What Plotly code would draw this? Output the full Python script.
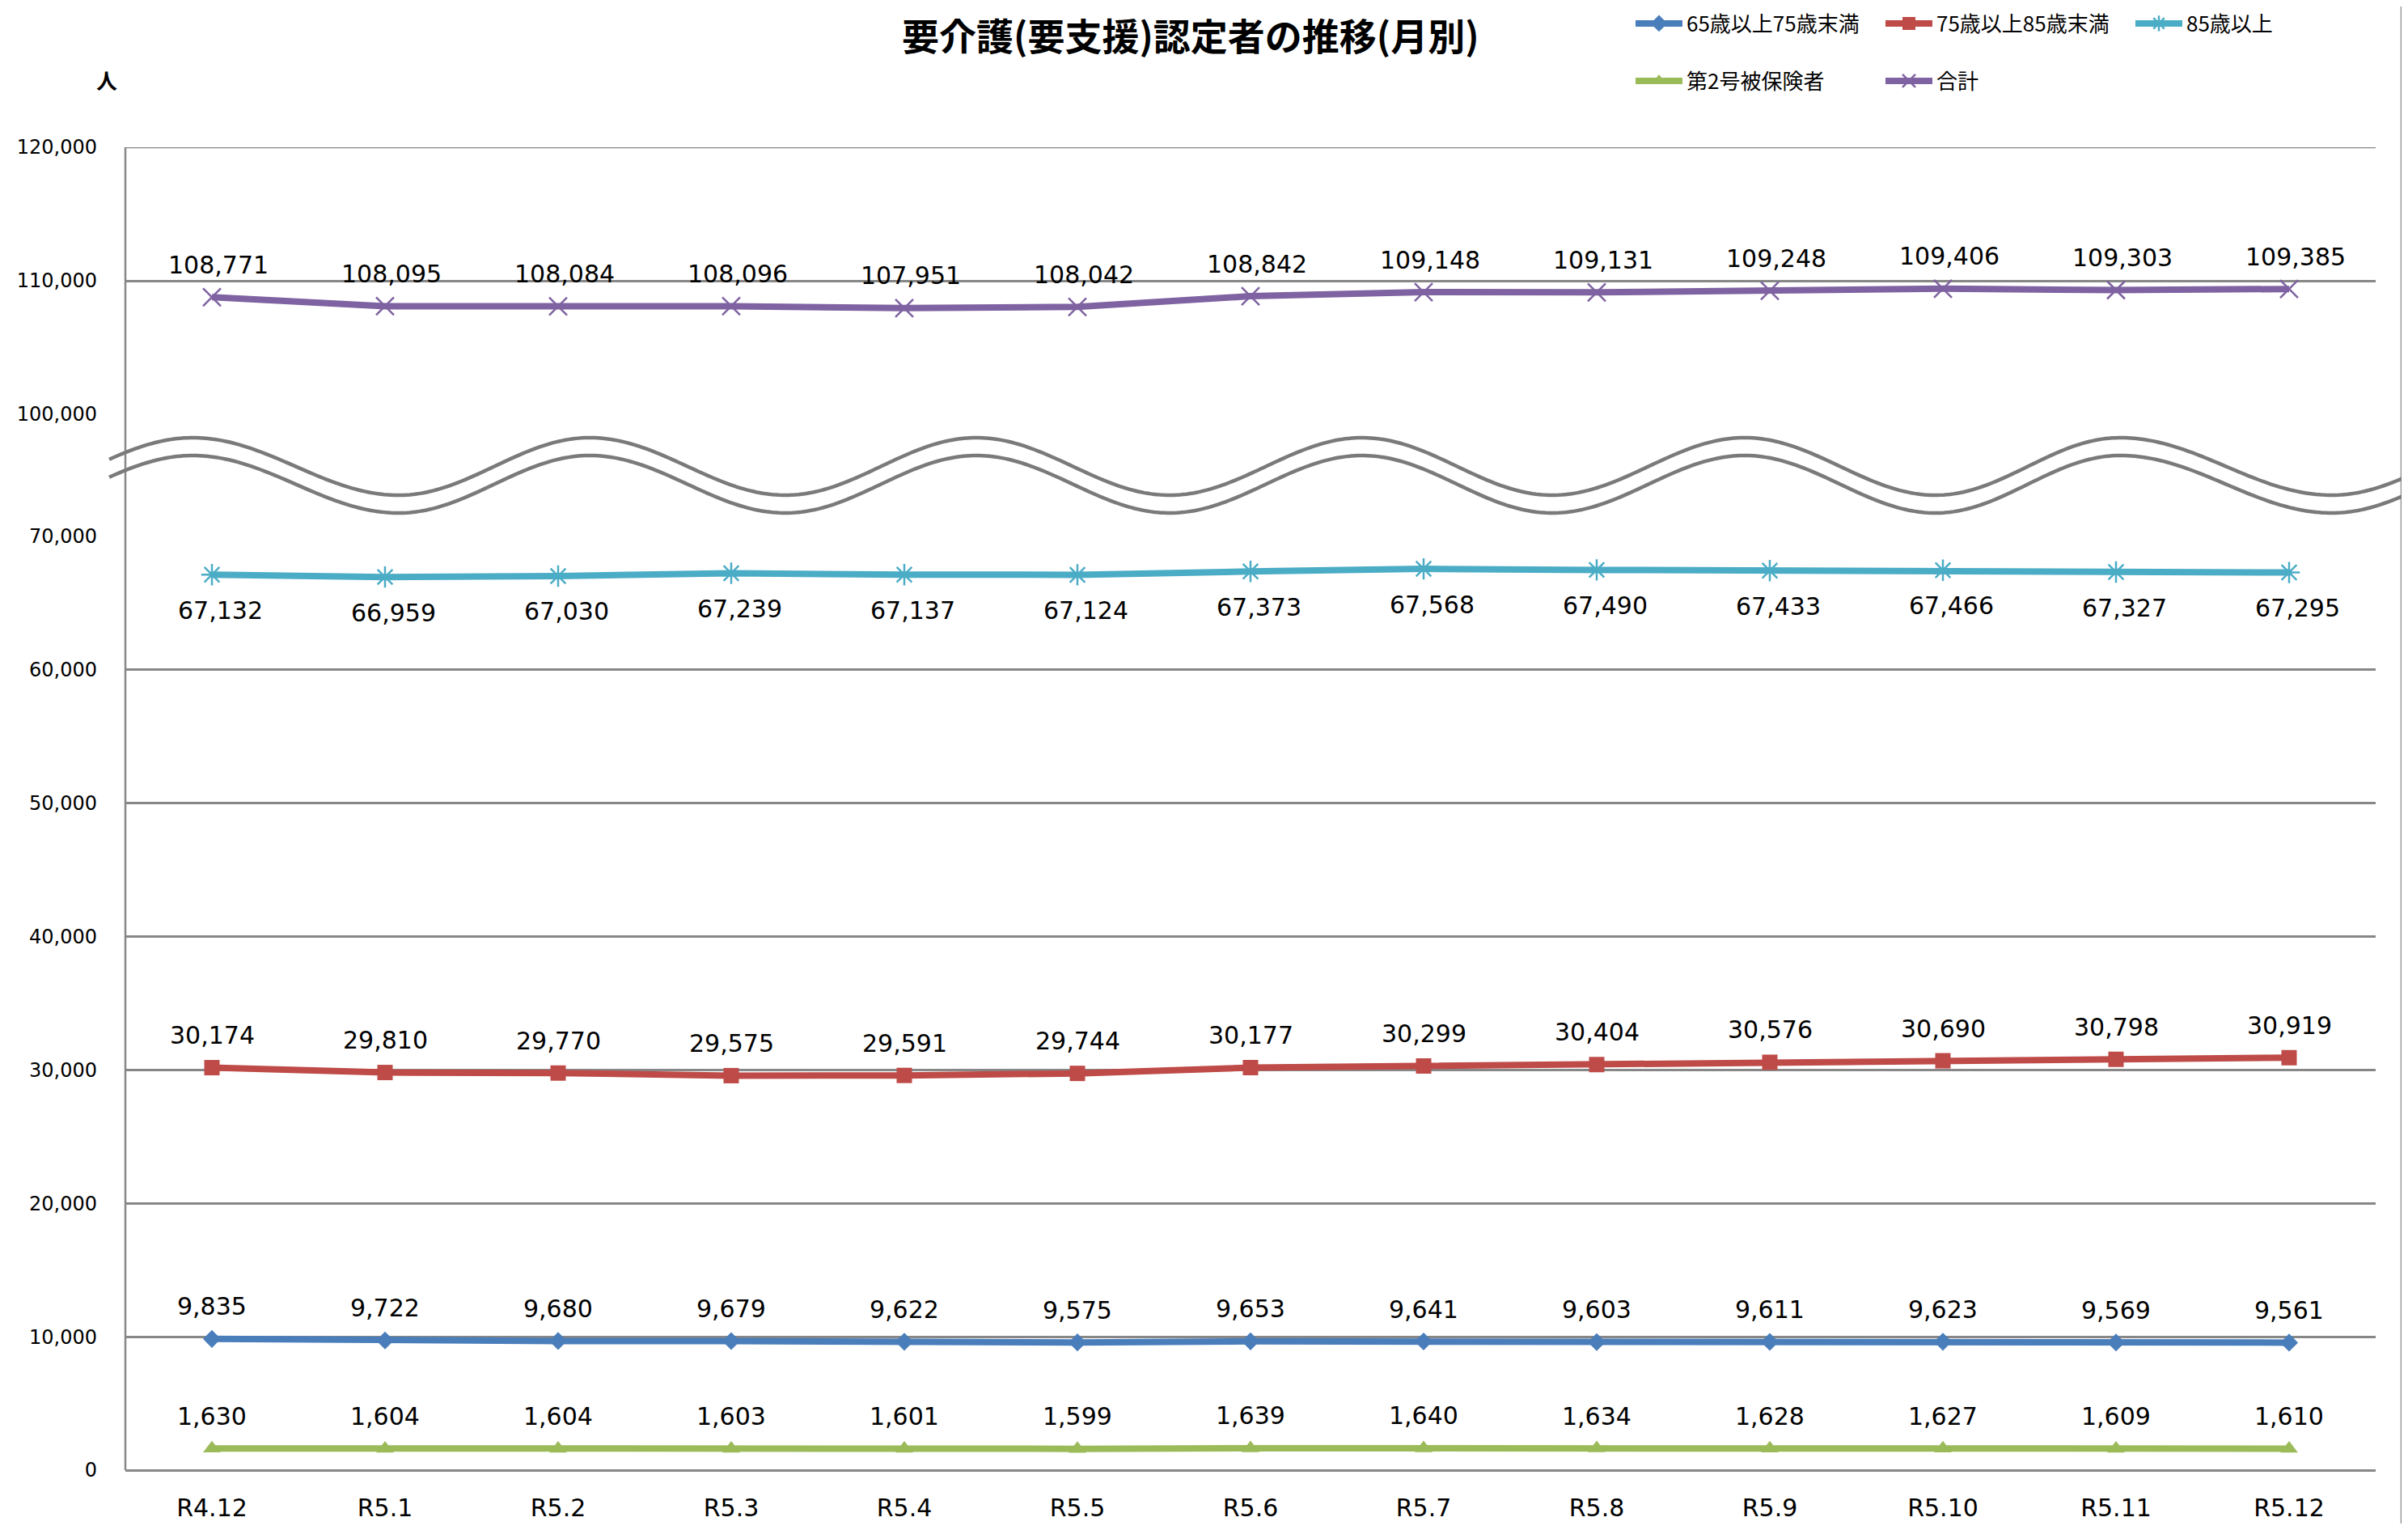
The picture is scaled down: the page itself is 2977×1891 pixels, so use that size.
import math
import plotly.graph_objects as go

# ---------------- data ----------------
categories = ["R4.12", "R5.1", "R5.2", "R5.3", "R5.4", "R5.5", "R5.6",
              "R5.7", "R5.8", "R5.9", "R5.10", "R5.11", "R5.12"]
age65_75 = [9835, 9722, 9680, 9679, 9622, 9575, 9653, 9641, 9603, 9611, 9623, 9569, 9561]
age75_85 = [30174, 29810, 29770, 29575, 29591, 29744, 30177, 30299, 30404, 30576, 30690, 30798, 30919]
age85_plus = [67132, 66959, 67030, 67239, 67137, 67124, 67373, 67568, 67490, 67433, 67466, 67327, 67295]
second_insured = [1630, 1604, 1604, 1603, 1601, 1599, 1639, 1640, 1634, 1628, 1627, 1609, 1610]
total = [108771, 108095, 108084, 108096, 107951, 108042, 108842, 109148, 109131, 109248, 109406, 109303, 109385]

names = ["65歳以上75歳末満", "75歳以上85歳末満", "85歳以上", "第2号被保険者", "合計"]
lower_ticks = [0, 10000, 20000, 30000, 40000, 50000, 60000, 70000]
upper_ticks = [100000, 110000, 120000]

title_text = "要介護(要支援)認定者の推移(月別)"
unit_text = "人"

# ---------------- geometry ----------------
# page body has an 8px margin, so the figure starts at (8, 8) of the window
OFF = 8
W, H = 2977 - 2 * OFF, 1891 - 2 * OFF
# target plot box in window pixels: left 155, right 2937, top 182, bottom 1817
ML = 155 - OFF
MR = W - (2937 - OFF)
MT = 182 - OFF
MB = H - (1817 - OFF)
PW = W - ML - MR
PH = H - MT - MB


def px_x(px):
    """window x pixel -> paper x"""
    return (px - OFF - ML) / PW


def px_y(py):
    """window y pixel -> paper y"""
    return (H - MB - (py - OFF)) / PH


dom_low = [0, px_y(663)]
dom_up = [px_y(512), 1]

JP = "Noto Sans CJK JP"
NUM = "DejaVu Sans"
GRID = "#878787"

fig = go.Figure()

styles = [
    dict(color="#4A7EBB", symbol="diamond", size=17, lw=0),
    dict(color="#BE4B48", symbol="square", size=19, lw=0),
    dict(color="#4BACC6", symbol="asterisk-open", size=22, lw=2.5),
    dict(color="#9BBB59", symbol="triangle-up", size=19, lw=0),
    dict(color="#7F62A1", symbol="x-thin-open", size=22, lw=2.5),
]
series = [age65_75, age75_85, age85_plus, second_insured, total]
axes = ["y", "y", "y", "y", "y2"]
legends = ["legend", "legend", "legend", "legend2", "legend2"]

for name, vals, st, ax, lg in zip(names, series, styles, axes, legends):
    fig.add_trace(go.Scatter(
        x=categories, y=vals, name=name, mode="lines+markers",
        yaxis=ax, legend=lg,
        line=dict(color=st["color"], width=8),
        marker=dict(symbol=st["symbol"], size=st["size"], color=st["color"],
                    line=dict(color=st["color"], width=st["lw"])),
        hoverinfo="skip",
    ))

# data labels
label_cfg = [(-40, 0), (-40, 0), (44, 10), (-40, 0), (-40, 8)]
annotations = []
for vals, ax, (dy, dx) in zip(series, axes, label_cfg):
    for c, v in zip(categories, vals):
        annotations.append(dict(
            x=c, y=v, xref="x", yref=ax, text=f"{v:,}", showarrow=False,
            yshift=-dy, xshift=dx, xanchor="center", yanchor="middle",
            font=dict(family=NUM, size=30, color="#000000"),
        ))

annotations.append(dict(
    x=px_x(132), y=px_y(99), xref="paper", yref="paper", text=unit_text,
    showarrow=False, xanchor="center", yanchor="middle",
    font=dict(family=JP, size=26, color="#000000", weight=700),
))

# chart title (kept fully inside the figure)
annotations.append(dict(
    x=px_x(1472), y=px_y(8), xref="paper", yref="paper", text=title_text,
    showarrow=False, xanchor="center", yanchor="top", borderpad=0,
    font=dict(family=JP, size=46, color="#000000", weight=700),
))

# ---------------- break waves ----------------
extrema = [-7, 238, 493, 729, 971, 1207, 1446, 1684, 1919, 2157, 2393, 2621, 2883, 3123]


def wave_path(mid, amp, x_start=135, x_end=2977, step=4):
    pts = []
    x = x_start
    while x <= x_end:
        for i in range(len(extrema) - 1):
            if extrema[i] <= x <= extrema[i + 1]:
                t = (x - extrema[i]) / (extrema[i + 1] - extrema[i])
                c = math.cos(math.pi * t)
                # even index = trough (larger py), odd index = peak
                y = mid + amp * c if i % 2 == 0 else mid - amp * c
                break
        pts.append((px_x(x), px_y(y)))
        x += step
    return "M " + " L ".join(f"{a:.5f},{b:.5f}" for a, b in pts)


shapes = [
    # left axis line through the break
    dict(type="line", xref="paper", yref="paper", x0=0, x1=0, y0=0, y1=1,
         line=dict(color=GRID, width=2.5)),
    # top gridline (120,000)
    dict(type="line", xref="paper", yref="y2", x0=0, x1=1, y0=120000, y1=120000,
         line=dict(color=GRID, width=2.5), layer="below"),
    # right border
    dict(type="line", xref="paper", yref="paper", x0=px_x(2969), x1=px_x(2969),
         y0=px_y(1891), y1=px_y(0), line=dict(color="#8c8c8c", width=2.5)),
    dict(type="path", xref="paper", yref="paper", path=wave_path(576.5, 35.5),
         line=dict(color="#7a7a7a", width=4.5)),
    dict(type="path", xref="paper", yref="paper", path=wave_path(598.5, 35.5),
         line=dict(color="#7a7a7a", width=4.5)),
]

axis_common = dict(
    showgrid=True, gridcolor=GRID, gridwidth=2.5, tickformat=",d",
    ticks="", ticklabelstandoff=34, showline=False, automargin=False,
    tickfont=dict(family=NUM, size=24, color="#000000"),
    zeroline=True, zerolinecolor=GRID, zerolinewidth=2.5,
    fixedrange=True,
)

legend_common = dict(orientation="h", x=px_x(2017), xanchor="left", yanchor="middle",
                     entrywidth=236, itemwidth=58, bgcolor="rgba(0,0,0,0)",
                     font=dict(family=JP, size=26, color="#000000"))

fig.update_layout(
    template="none",
    width=W, height=H,
    margin=dict(l=ML, r=MR, t=MT, b=MB, pad=0, autoexpand=False),
    paper_bgcolor="white", plot_bgcolor="white",
    xaxis=dict(range=[-0.5, 12.5], showgrid=False, zeroline=False, showline=False,
               ticks="", ticklabelstandoff=26, anchor="y", automargin=False,
               tickfont=dict(family=NUM, size=30, color="#000000"), fixedrange=True),
    yaxis=dict(domain=dom_low, range=[0, 70000], tickvals=lower_ticks, **axis_common),
    yaxis2=dict(domain=dom_up, range=[100000, 120000], tickvals=upper_ticks,
                anchor="x", **axis_common),
    legend=dict(y=px_y(29), **legend_common),
    legend2=dict(y=px_y(100), **legend_common),
    annotations=annotations,
    shapes=shapes,
    showlegend=True,
)

fig.write_html("out.html")
